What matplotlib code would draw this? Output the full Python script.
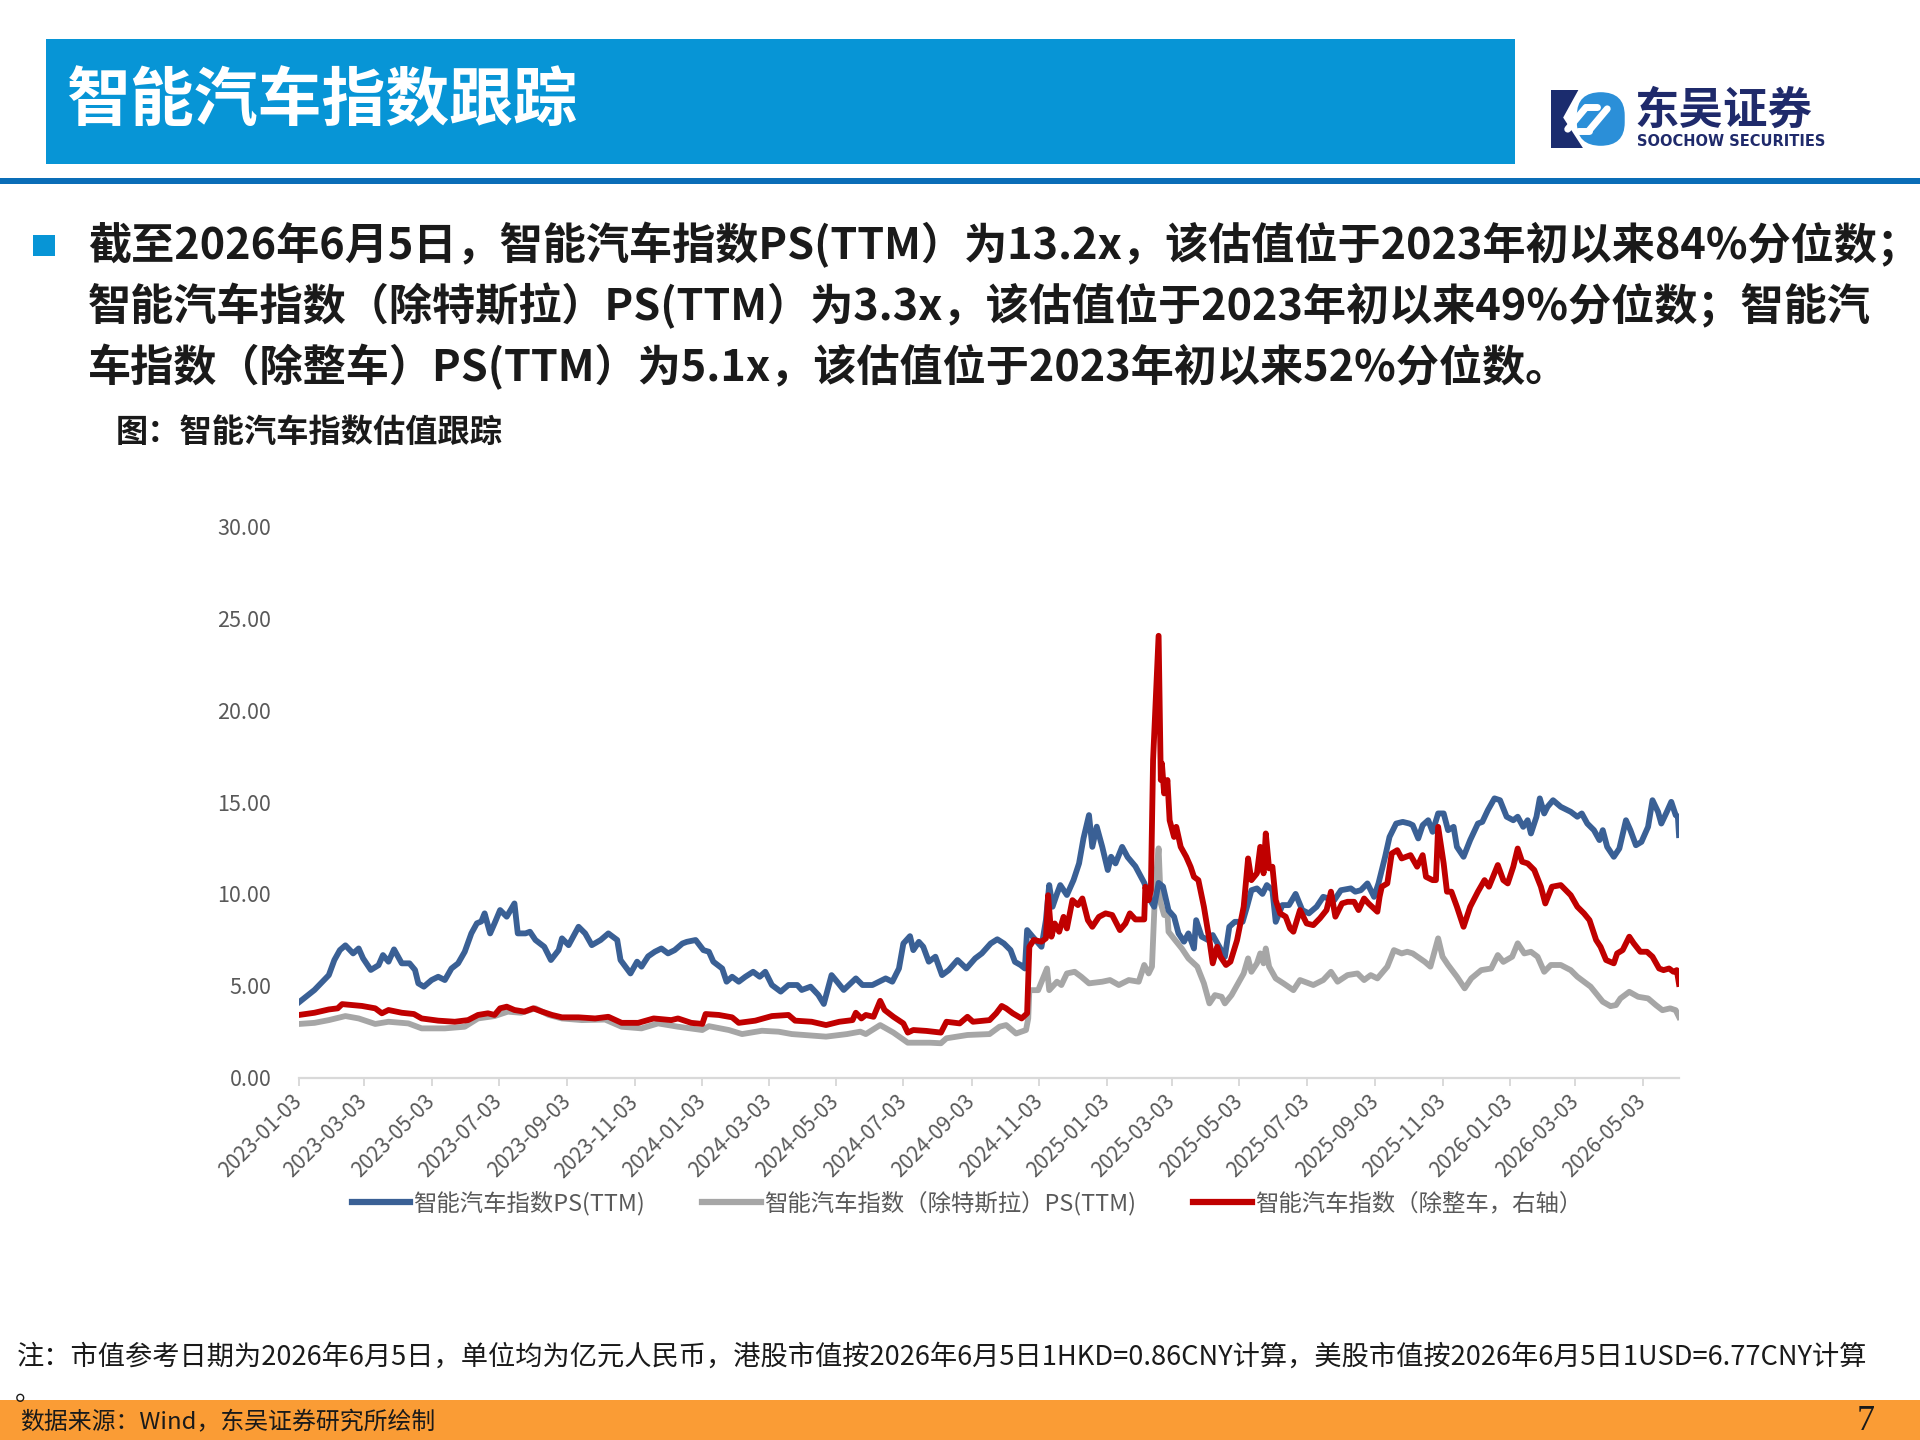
import matplotlib
matplotlib.use("Agg")
import matplotlib.pyplot as plt
import pandas as pd
from matplotlib.patches import Rectangle, Polygon, FancyBboxPatch
from matplotlib.lines import Line2D

plt.rcParams['font.family'] = ['Noto Sans CJK SC', 'DejaVu Sans']

# 智能汽车指数PS(TTM)
blue_dates = ['2023-01-03', '2023-01-17', '2023-01-30', '2023-02-04', '2023-02-09', '2023-02-14', '2023-02-21',
              '2023-02-26', '2023-03-02', '2023-03-09', '2023-03-16', '2023-03-20', '2023-03-25', '2023-03-30',
              '2023-04-06', '2023-04-13', '2023-04-18', '2023-04-21', '2023-04-26', '2023-05-03', '2023-05-09',
              '2023-05-15', '2023-05-21', '2023-05-27', '2023-06-02', '2023-06-08', '2023-06-13', '2023-06-17',
              '2023-06-20', '2023-06-25', '2023-06-29', '2023-07-04', '2023-07-10', '2023-07-17', '2023-07-20',
              '2023-07-27', '2023-07-31', '2023-08-05', '2023-08-13', '2023-08-19', '2023-08-26', '2023-08-29',
              '2023-09-04', '2023-09-13', '2023-09-19', '2023-09-25', '2023-10-03', '2023-10-10', '2023-10-18',
              '2023-10-21', '2023-10-30', '2023-11-05', '2023-11-09', '2023-11-15', '2023-11-21', '2023-11-27',
              '2023-12-03', '2023-12-09', '2023-12-16', '2023-12-20', '2023-12-28', '2024-01-04', '2024-01-09',
              '2024-01-13', '2024-01-21', '2024-01-25', '2024-01-30', '2024-02-05', '2024-02-11', '2024-02-18',
              '2024-02-24', '2024-02-29', '2024-03-06', '2024-03-14', '2024-03-21', '2024-03-29', '2024-04-02',
              '2024-04-10', '2024-04-17', '2024-04-22', '2024-04-29', '2024-05-04', '2024-05-10', '2024-05-21',
              '2024-05-27', '2024-06-05', '2024-06-17', '2024-06-23', '2024-06-29', '2024-07-03', '2024-07-09',
              '2024-07-12', '2024-07-17', '2024-07-21', '2024-07-26', '2024-08-01', '2024-08-07', '2024-08-13',
              '2024-08-21', '2024-08-29', '2024-09-06', '2024-09-12', '2024-09-20', '2024-09-26', '2024-10-02',
              '2024-10-08', '2024-10-12', '2024-10-17', '2024-10-21', '2024-10-23', '2024-10-28', '2024-11-05',
              '2024-11-09', '2024-11-12', '2024-11-15', '2024-11-19', '2024-11-22', '2024-11-28', '2024-12-04',
              '2024-12-09', '2024-12-13', '2024-12-18', '2024-12-21', '2024-12-25', '2024-12-30', '2025-01-04',
              '2025-01-07', '2025-01-11', '2025-01-17', '2025-01-22', '2025-01-29', '2025-02-06', '2025-02-12',
              '2025-02-15', '2025-02-19', '2025-02-23', '2025-02-28', '2025-03-05', '2025-03-09', '2025-03-14',
              '2025-03-18', '2025-03-23', '2025-03-25', '2025-03-30', '2025-04-05', '2025-04-09', '2025-04-15',
              '2025-04-20', '2025-04-24', '2025-04-29', '2025-05-06', '2025-05-10', '2025-05-14', '2025-05-19',
              '2025-05-24', '2025-05-28', '2025-06-02', '2025-06-05', '2025-06-11', '2025-06-17', '2025-06-23',
              '2025-06-29', '2025-07-05', '2025-07-12', '2025-07-18', '2025-07-28', '2025-08-03', '2025-08-12',
              '2025-08-16', '2025-08-21', '2025-08-27', '2025-09-02', '2025-09-06', '2025-09-12', '2025-09-16',
              '2025-09-22', '2025-09-28', '2025-10-04', '2025-10-07', '2025-10-12', '2025-10-16', '2025-10-21',
              '2025-10-25', '2025-10-30', '2025-11-04', '2025-11-08', '2025-11-13', '2025-11-16', '2025-11-22',
              '2025-11-28', '2025-12-05', '2025-12-09', '2025-12-14', '2025-12-20', '2025-12-25', '2025-12-31',
              '2026-01-06', '2026-01-10', '2026-01-15', '2026-01-19', '2026-01-22', '2026-01-27', '2026-01-30',
              '2026-02-03', '2026-02-06', '2026-02-11', '2026-02-18', '2026-02-27', '2026-03-05', '2026-03-09',
              '2026-03-14', '2026-03-20', '2026-03-25', '2026-03-28', '2026-04-01', '2026-04-07', '2026-04-12',
              '2026-04-18', '2026-04-22', '2026-04-27', '2026-05-02', '2026-05-08', '2026-05-12', '2026-05-17',
              '2026-05-20', '2026-05-25', '2026-05-29', '2026-06-02', '2026-06-04', '2026-06-05']
blue_vals = [4.1, 4.77, 5.58, 6.4, 6.94, 7.2, 6.76, 7.03, 6.49, 5.86, 6.12, 6.67, 6.31, 6.98,
             6.22, 6.22, 5.86, 5.13, 4.95, 5.31, 5.49, 5.31, 5.94, 6.22, 6.85, 7.85, 8.4, 8.5,
             8.94, 7.85, 8.4, 9.12, 8.76, 9.48, 7.85, 7.85, 7.94, 7.49, 7.12, 6.4, 6.94, 7.58,
             7.21, 8.21, 7.85, 7.21, 7.49, 7.85, 7.49, 6.4, 5.67, 6.31, 6.04, 6.6, 6.85, 7.03,
             6.76, 6.94, 7.3, 7.39, 7.49, 6.94, 6.85, 6.31, 5.94, 5.22, 5.49, 5.22, 5.49, 5.76,
             5.49, 5.76, 5.04, 4.68, 5.04, 5.04, 4.77, 4.95, 4.5, 4.01, 5.58, 5.22, 4.77, 5.4,
             5.04, 5.04, 5.4, 5.22, 5.94, 7.3, 7.7, 6.94, 7.39, 7.12, 6.31, 6.58, 5.58, 5.85,
             6.4, 5.94, 6.49, 6.76, 7.3, 7.53, 7.3, 6.94, 6.3, 6.13, 5.94, 8.03, 7.67, 7.12,
             8.57, 10.48, 9.3, 10.0, 10.48, 9.94, 10.75, 11.66, 13.02, 14.29, 12.56, 13.66, 12.56, 11.3,
             12.02, 11.66, 12.56, 12.0, 11.5, 10.6, 9.6, 9.3, 10.6, 10.4, 9.1, 8.76, 7.85, 7.4,
             7.85, 7.03, 8.57, 7.67, 7.48, 7.76, 7.12, 6.58, 8.21, 8.48, 8.48, 9.3, 10.2, 10.3,
             10.0, 10.48, 10.2, 8.48, 9.39, 9.39, 10.0, 9.12, 8.94, 9.3, 9.84, 9.66, 10.2, 10.3,
             10.12, 10.2, 10.57, 9.84, 10.57, 12.02, 13.1, 13.83, 13.92, 13.83, 13.74, 13.02, 13.74, 14.01,
             13.38, 14.38, 14.38, 13.47, 13.65, 12.56, 12.02, 12.93, 13.83, 13.92, 14.56, 15.2, 15.1, 14.2,
             14.01, 14.2, 13.65, 14.01, 13.29, 14.2, 15.2, 14.38, 14.74, 15.1, 14.74, 14.47, 14.2, 14.38,
             13.83, 13.47, 12.93, 13.47, 12.56, 12.02, 12.47, 14.01, 13.47, 12.65, 12.83, 13.65, 15.1, 14.47,
             13.83, 14.47, 15.01, 14.29, 14.2, 13.2]

# 智能汽车指数（除特斯拉）PS(TTM)
gray_dates = ['2023-01-03', '2023-01-17', '2023-01-30', '2023-02-14', '2023-02-26', '2023-03-13', '2023-03-25',
              '2023-04-12', '2023-04-24', '2023-05-15', '2023-06-02', '2023-06-14', '2023-06-29', '2023-07-11',
              '2023-07-23', '2023-08-05', '2023-08-17', '2023-08-29', '2023-09-16', '2023-10-07', '2023-10-22',
              '2023-11-09', '2023-11-24', '2023-12-12', '2024-01-03', '2024-01-09', '2024-01-27', '2024-02-08',
              '2024-02-26', '2024-03-12', '2024-03-24', '2024-04-24', '2024-05-13', '2024-05-25', '2024-05-30',
              '2024-06-12', '2024-06-24', '2024-07-07', '2024-07-27', '2024-08-06', '2024-08-11', '2024-08-30',
              '2024-09-19', '2024-09-28', '2024-10-04', '2024-10-13', '2024-10-22', '2024-10-24', '2024-10-25',
              '2024-11-02', '2024-11-10', '2024-11-12', '2024-11-19', '2024-11-23', '2024-11-28', '2024-12-05',
              '2024-12-11', '2024-12-18', '2024-12-30', '2025-01-06', '2025-01-14', '2025-01-23', '2025-02-01',
              '2025-02-06', '2025-02-10', '2025-02-13', '2025-02-16', '2025-02-19', '2025-02-21', '2025-02-24',
              '2025-02-27', '2025-02-28', '2025-03-06', '2025-03-12', '2025-03-18', '2025-03-26', '2025-04-01',
              '2025-04-06', '2025-04-11', '2025-04-17', '2025-04-20', '2025-04-26', '2025-05-02', '2025-05-07',
              '2025-05-11', '2025-05-14', '2025-05-19', '2025-05-22', '2025-05-25', '2025-05-27', '2025-05-30',
              '2025-06-05', '2025-06-12', '2025-06-21', '2025-06-27', '2025-07-09', '2025-07-18', '2025-07-25',
              '2025-07-31', '2025-08-09', '2025-08-18', '2025-08-24', '2025-08-30', '2025-09-05', '2025-09-14',
              '2025-09-20', '2025-09-27', '2025-10-02', '2025-10-07', '2025-10-18', '2025-10-23', '2025-10-30',
              '2025-11-03', '2025-11-08', '2025-11-16', '2025-11-23', '2025-11-29', '2025-12-08', '2025-12-17',
              '2025-12-23', '2025-12-28', '2026-01-05', '2026-01-10', '2026-01-16', '2026-01-22', '2026-01-28',
              '2026-02-03', '2026-02-09', '2026-02-18', '2026-02-27', '2026-03-05', '2026-03-11', '2026-03-17',
              '2026-03-22', '2026-03-28', '2026-04-04', '2026-04-09', '2026-04-13', '2026-04-21', '2026-04-29',
              '2026-05-08', '2026-05-15', '2026-05-21', '2026-05-28', '2026-06-02', '2026-06-05']
gray_vals = [2.92, 2.98, 3.13, 3.35, 3.22, 2.92, 3.04, 2.95, 2.68, 2.68, 2.77, 3.22, 3.35, 3.59,
             3.53, 3.77, 3.41, 3.22, 3.13, 3.16, 2.77, 2.68, 2.95, 2.77, 2.59, 2.8, 2.59, 2.37,
             2.55, 2.5, 2.37, 2.23, 2.37, 2.5, 2.37, 2.86, 2.45, 1.9, 1.9, 1.87, 2.14, 2.32,
             2.37, 2.77, 2.86, 2.4, 2.59, 3.22, 4.76, 4.76, 5.94, 4.76, 5.22, 5.04, 5.67, 5.76,
             5.49, 5.13, 5.22, 5.31, 5.04, 5.31, 5.22, 6.13, 5.67, 6.04, 10.39, 12.48, 9.48, 8.85,
             8.94, 7.94, 7.48, 7.03, 6.49, 6.04, 5.13, 4.04, 4.49, 4.4, 4.04, 4.49, 5.13, 5.67,
             6.49, 5.76, 6.22, 6.76, 6.22, 7.03, 6.04, 5.4, 5.13, 4.76, 5.31, 5.04, 5.31, 5.76,
             5.22, 5.58, 5.67, 5.31, 5.58, 5.4, 6.04, 6.94, 6.76, 6.85, 6.76, 6.3, 6.04, 7.58,
             6.58, 6.13, 5.49, 4.86, 5.4, 5.85, 5.94, 6.67, 6.3, 6.58, 7.31, 6.76, 6.85, 6.58,
             5.76, 6.13, 6.13, 5.85, 5.49, 5.22, 4.95, 4.58, 4.13, 3.89, 3.95, 4.31, 4.67, 4.4,
             4.31, 3.95, 3.67, 3.77, 3.67, 3.3]

# 智能汽车指数（除整车，右轴）
red_dates = ['2023-01-03', '2023-01-17', '2023-01-30', '2023-02-07', '2023-02-11', '2023-02-20', '2023-03-01',
             '2023-03-13', '2023-03-19', '2023-03-25', '2023-04-06', '2023-04-17', '2023-04-24', '2023-05-09',
             '2023-05-24', '2023-06-05', '2023-06-14', '2023-06-23', '2023-06-29', '2023-07-04', '2023-07-10',
             '2023-07-17', '2023-07-26', '2023-08-03', '2023-08-11', '2023-08-20', '2023-08-29', '2023-09-13',
             '2023-09-28', '2023-10-10', '2023-10-22', '2023-11-06', '2023-11-20', '2023-12-06', '2023-12-12',
             '2023-12-24', '2024-01-03', '2024-01-06', '2024-01-18', '2024-01-30', '2024-02-05', '2024-02-20',
             '2024-03-06', '2024-03-21', '2024-03-27', '2024-04-11', '2024-04-24', '2024-05-06', '2024-05-18',
             '2024-05-21', '2024-05-26', '2024-05-30', '2024-06-06', '2024-06-12', '2024-06-16', '2024-06-24',
             '2024-07-03', '2024-07-07', '2024-07-12', '2024-07-24', '2024-08-06', '2024-08-11', '2024-08-23',
             '2024-08-30', '2024-09-04', '2024-09-19', '2024-09-25', '2024-09-30', '2024-10-04', '2024-10-10',
             '2024-10-18', '2024-10-23', '2024-10-25', '2024-10-29', '2024-11-05', '2024-11-09', '2024-11-11',
             '2024-11-14', '2024-11-17', '2024-11-21', '2024-11-25', '2024-11-28', '2024-12-03', '2024-12-08',
             '2024-12-12', '2024-12-17', '2024-12-21', '2024-12-27', '2025-01-02', '2025-01-08', '2025-01-15',
             '2025-01-20', '2025-01-24', '2025-01-29', '2025-02-06', '2025-02-07', '2025-02-10', '2025-02-12',
             '2025-02-14', '2025-02-19', '2025-02-21', '2025-02-22', '2025-02-24', '2025-02-27', '2025-03-01',
             '2025-03-05', '2025-03-07', '2025-03-11', '2025-03-16', '2025-03-20', '2025-03-23', '2025-03-27',
             '2025-04-01', '2025-04-06', '2025-04-09', '2025-04-13', '2025-04-16', '2025-04-21', '2025-04-25',
             '2025-05-01', '2025-05-07', '2025-05-11', '2025-05-14', '2025-05-19', '2025-05-22', '2025-05-25',
             '2025-05-27', '2025-05-30', '2025-06-02', '2025-06-05', '2025-06-09', '2025-06-14', '2025-06-18',
             '2025-06-21', '2025-06-27', '2025-07-03', '2025-07-09', '2025-07-15', '2025-07-21', '2025-07-25',
             '2025-07-29', '2025-08-04', '2025-08-09', '2025-08-15', '2025-08-19', '2025-08-24', '2025-08-28',
             '2025-09-05', '2025-09-07', '2025-09-09', '2025-09-14', '2025-09-18', '2025-09-23', '2025-09-27',
             '2025-10-05', '2025-10-11', '2025-10-16', '2025-10-19', '2025-10-25', '2025-10-28', '2025-10-30',
             '2025-11-04', '2025-11-07', '2025-11-11', '2025-11-16', '2025-11-22', '2025-11-28', '2025-12-05',
             '2025-12-11', '2025-12-15', '2025-12-23', '2025-12-28', '2026-01-01', '2026-01-06', '2026-01-10',
             '2026-01-14', '2026-01-19', '2026-01-25', '2026-01-31', '2026-02-04', '2026-02-10', '2026-02-18',
             '2026-02-27', '2026-03-05', '2026-03-11', '2026-03-16', '2026-03-22', '2026-03-26', '2026-03-31',
             '2026-04-07', '2026-04-10', '2026-04-15', '2026-04-21', '2026-04-25', '2026-05-01', '2026-05-07',
             '2026-05-12', '2026-05-18', '2026-05-22', '2026-05-27', '2026-05-31', '2026-06-03', '2026-06-05']
red_vals = [3.41, 3.53, 3.71, 3.77, 4.0, 3.95, 3.9, 3.77, 3.5, 3.68, 3.53, 3.46, 3.22, 3.1,
            3.04, 3.13, 3.41, 3.5, 3.41, 3.77, 3.86, 3.68, 3.59, 3.77, 3.59, 3.41, 3.28, 3.28,
            3.22, 3.31, 2.98, 2.98, 3.22, 3.13, 3.22, 2.98, 2.92, 3.46, 3.41, 3.28, 2.98, 3.1,
            3.35, 3.41, 3.1, 3.04, 2.86, 3.04, 3.13, 3.53, 3.22, 3.41, 3.31, 4.18, 3.68, 3.31,
            2.95, 2.45, 2.59, 2.54, 2.45, 3.04, 2.95, 3.31, 3.04, 3.13, 3.5, 3.9, 3.77, 3.5,
            3.22, 3.5, 7.12, 7.49, 7.4, 7.58, 9.93, 7.67, 8.39, 7.94, 8.75, 8.12, 9.66, 9.39,
            9.75, 8.57, 8.21, 8.75, 8.94, 8.85, 8.03, 8.39, 8.94, 8.61, 8.61, 10.39, 9.66, 10.2,
            17.28, 24.05, 16.2, 17.1, 15.47, 16.2, 14.0, 13.1, 13.65, 12.56, 12.02, 11.47, 10.93, 10.75,
            9.3, 7.48, 6.22, 7.12, 6.58, 6.13, 6.31, 7.48, 9.3, 11.93, 10.75, 11.12, 12.56, 11.12,
            13.29, 11.39, 11.48, 9.66, 8.94, 8.76, 8.12, 7.94, 9.12, 8.39, 8.3, 8.67, 9.12, 10.12,
            8.76, 9.48, 9.57, 9.57, 9.12, 9.75, 9.48, 9.03, 9.84, 10.39, 10.57, 12.2, 12.38, 11.93,
            12.11, 11.48, 12.11, 10.93, 10.75, 10.75, 13.65, 11.66, 10.12, 10.12, 9.3, 8.21, 9.3, 10.12,
            10.75, 10.39, 11.57, 10.75, 10.57, 11.48, 12.47, 11.75, 11.66, 11.3, 10.39, 9.48, 10.39, 10.48,
            9.93, 9.3, 8.94, 8.57, 7.49, 7.12, 6.4, 6.22, 6.76, 6.94, 7.67, 7.31, 6.85, 6.85,
            6.58, 5.94, 5.85, 5.94, 5.76, 5.85, 5.1]

tick_labels = ['2023-01-03', '2023-03-03', '2023-05-03', '2023-07-03', '2023-09-03', '2023-11-03',
               '2024-01-03', '2024-03-03', '2024-05-03', '2024-07-03', '2024-09-03', '2024-11-03',
               '2025-01-03', '2025-03-03', '2025-05-03', '2025-07-03', '2025-09-03', '2025-11-03',
               '2026-01-03', '2026-03-03', '2026-05-03']
y_ticks = [0, 5, 10, 15, 20, 25, 30]

series_names = ['智能汽车指数PS(TTM)', '智能汽车指数（除特斯拉）PS(TTM)', '智能汽车指数（除整车，右轴）']
series_colors = ['#3A6095', '#A6A6A6', '#C00000']

title = '智能汽车指数跟踪'
bullet_lines = ['截至2026年6月5日，智能汽车指数PS(TTM）为13.2x，该估值位于2023年初以来84%分位数；',
                '智能汽车指数（除特斯拉）PS(TTM）为3.3x，该估值位于2023年初以来49%分位数；智能汽',
                '车指数（除整车）PS(TTM）为5.1x，该估值位于2023年初以来52%分位数。']
fig_caption = '图：智能汽车指数估值跟踪'
note = '注：市值参考日期为2026年6月5日，单位均为亿元人民币，港股市值按2026年6月5日1HKD=0.86CNY计算，美股市值按2026年6月5日1USD=6.77CNY计算'
source = '数据来源：Wind，东吴证券研究所绘制'

W, H = 1920, 1440
fig = plt.figure(figsize=(19.2, 14.4), dpi=100)
fig.patch.set_facecolor('white')


def fx(px):
    return px / W


def fy(py):
    return 1 - py / H


# 顶部标题栏
fig.patches.append(Rectangle((fx(46), fy(164)), fx(1515 - 46), (164 - 39) / H,
                             transform=fig.transFigure, facecolor='#0795D6', edgecolor='none'))
fig.text(fx(66), fy(102), title, color='white', fontsize=46, fontweight='bold', va='center', ha='left')
fig.patches.append(Rectangle((0, fy(184)), 1, 6 / H, transform=fig.transFigure,
                             facecolor='#0A6DB7', edgecolor='none'))

# logo
lax = fig.add_axes([fx(1551), fy(148), fx(76), 58 / H])
lax.set_xlim(0, 10)
lax.set_ylim(0, 8)
lax.axis('off')
lax.add_patch(Polygon([(0, 0), (0, 8), (3.6, 8), (1.6, 4.2), (4.2, 0)], closed=True,
                      facecolor='#1B2C6E', edgecolor='none'))
lax.add_patch(FancyBboxPatch((3.4, 0.3), 6.3, 7.4, boxstyle='round,pad=0,rounding_size=3.2',
                             facecolor='#2B8FD8', edgecolor='none'))
lax.plot([2.2, 4.6], [2.6, 5.6], color='white', lw=5, solid_capstyle='round')
lax.plot([5.0, 7.4], [2.4, 5.4], color='white', lw=5, solid_capstyle='round')
lax.plot([4.6, 6.0], [5.6, 5.6], color='white', lw=5, solid_capstyle='round')
lax.plot([3.6, 5.0], [2.4, 2.4], color='white', lw=5, solid_capstyle='round')
fig.text(fx(1634), fy(111), '东吴证券', color='#1F2A6B', fontsize=32, fontweight='bold',
         va='center', ha='left')
fig.text(fx(1637), fy(141), 'SOOCHOW SECURITIES', color='#1F2A6B', fontsize=10.5,
         fontweight='bold', va='center', ha='left', family=['DejaVu Sans'])

# 正文要点
fig.patches.append(Rectangle((fx(33), fy(256)), fx(22), 21 / H, transform=fig.transFigure,
                             facecolor='#0795D6', edgecolor='none'))
for i, line in enumerate(bullet_lines):
    fig.text(fx(88), fy(245 + 61 * i), line, color='#1A1A1A', fontsize=31.1, fontweight='bold',
             va='center', ha='left')
fig.text(fx(116), fy(432), fig_caption, color='#1A1A1A', fontsize=23.2, fontweight='bold',
         va='center', ha='left')

# 图表
ax = fig.add_axes([fx(299), fy(1077.6), fx(1679 - 299), (1077.6 - 526.5) / H])
ax.plot(pd.to_datetime(gray_dates), gray_vals, color=series_colors[1], lw=4.2, solid_joinstyle='round')
ax.plot(pd.to_datetime(blue_dates), blue_vals, color=series_colors[0], lw=4.2, solid_joinstyle='round')
ax.plot(pd.to_datetime(red_dates), red_vals, color=series_colors[2], lw=4.2, solid_joinstyle='round')

ax.set_xlim(pd.Timestamp('2023-01-03'), pd.Timestamp('2026-06-05'))
ax.set_ylim(0, 30)
ax.set_yticks(y_ticks)
ax.set_yticklabels([f'{v:.2f}' for v in y_ticks])
ax.set_xticks(pd.to_datetime(tick_labels))
ax.set_xticklabels(tick_labels, rotation=45, ha='right', va='center', rotation_mode='anchor')
for s in ['top', 'right', 'left']:
    ax.spines[s].set_visible(False)
ax.spines['bottom'].set_color('#D9D9D9')
ax.spines['bottom'].set_linewidth(1.6)
ax.tick_params(axis='y', length=0, pad=20, labelsize=15.5, labelcolor='#595959')
ax.tick_params(axis='x', length=6, width=1.4, color='#D9D9D9', pad=9, labelsize=15,
               labelcolor='#595959')

handles = [Line2D([], [], color=c, lw=4.5) for c in series_colors]
fig.legend(handles, series_names, loc='center', bbox_to_anchor=(fx(967), fy(1203)), ncol=3,
           frameon=False, handlelength=2.5, handletextpad=0.15, columnspacing=2.45,
           fontsize=16.8, labelcolor='#595959')

# 注释与页脚
fig.text(fx(17), fy(1357), note, color='#1A1A1A', fontsize=19.6, va='center', ha='left')
fig.text(fx(15), fy(1392), '。', color='#1A1A1A', fontsize=19.6, va='center', ha='left')
fig.patches.append(Rectangle((0, 0), 1, 40 / H, transform=fig.transFigure,
                             facecolor='#FA9C35', edgecolor='none'))
fig.text(fx(20), fy(1423), source, color='#1A1A1A', fontsize=17.2, va='center', ha='left')
fig.text(fx(1866), fy(1421), '7', color='#1A1A1A', fontsize=26, va='center', ha='center',
         family=['Liberation Serif'])

fig.savefig('out.png', dpi=100, facecolor='white')
